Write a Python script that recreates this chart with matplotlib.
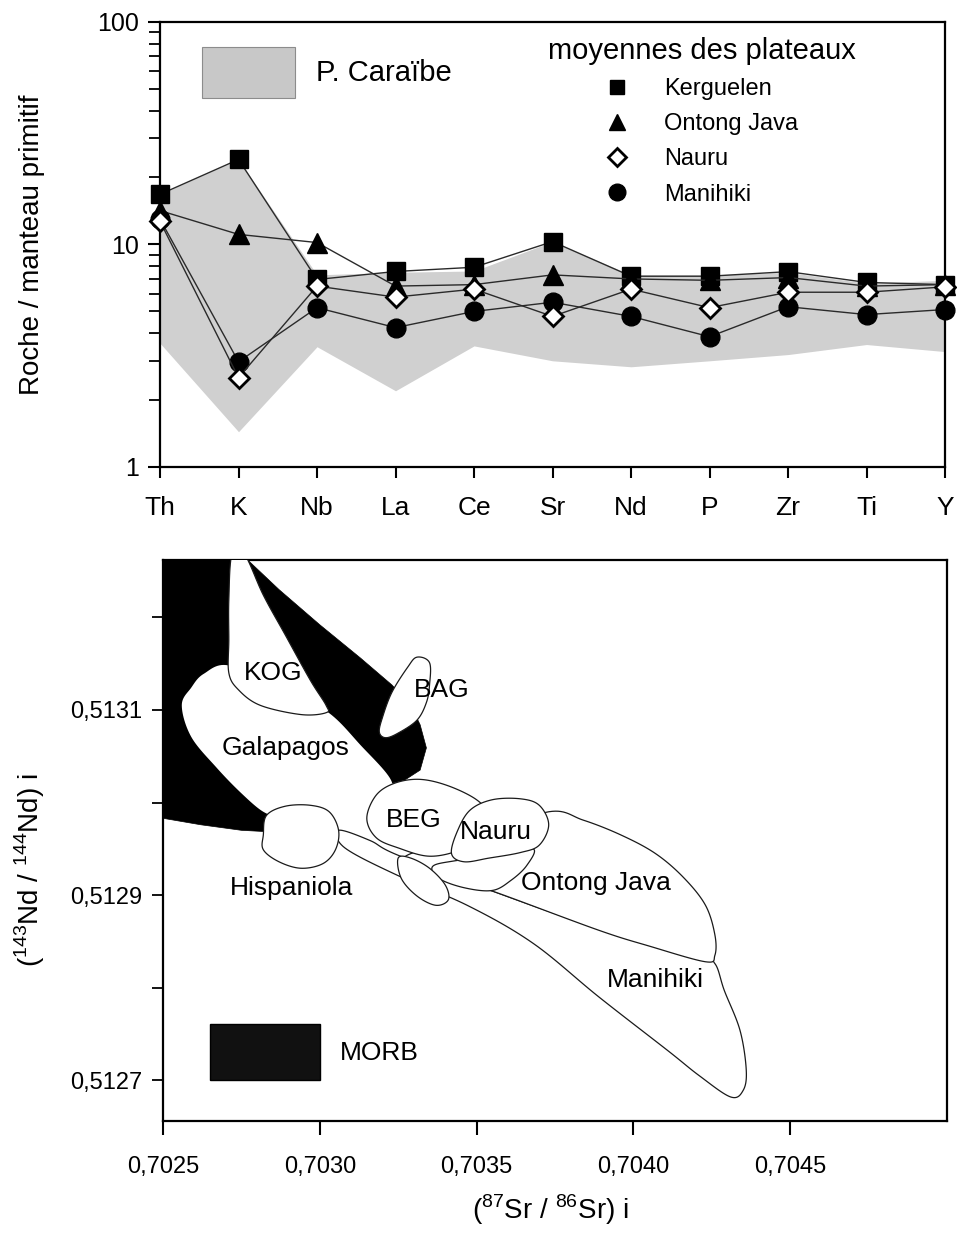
import matplotlib
matplotlib.use('Agg')
import matplotlib.pyplot as plt
import numpy as np
from matplotlib.patches import Patch, Polygon
from matplotlib.lines import Line2D
from matplotlib.ticker import NullFormatter

plt.rcParams['font.family'] = ['Liberation Sans', 'DejaVu Sans']
plt.rcParams['mathtext.fontset'] = 'custom'
plt.rcParams['mathtext.rm'] = 'Liberation Sans'

# ---- top panel: spider diagram (normalised to primitive mantle)
elements = ['Th', 'K', 'Nb', 'La', 'Ce', 'Sr', 'Nd', 'P', 'Zr', 'Ti', 'Y']
kerguelen = [16.8, 24.1, 6.96, 7.56, 7.9, 10.3, 7.2, 7.2, 7.55, 6.75, 6.6]
ontong_java = [14.2, 11.1, 10.2, 6.5, 6.6, 7.3, 7.0, 6.9, 7.1, 6.5, 6.6]
nauru = [12.7, 2.52, 6.5, 5.8, 6.3, 4.75, 6.3, 5.2, 6.1, 6.1, 6.45]
manihiki = [13.0, 2.97, 5.2, 4.23, 5.0, 5.5, 4.75, 3.85, 5.25, 4.84, 5.1]
caraibe_low = [3.6, 1.44, 3.47, 2.2, 3.5, 3.0, 2.82, 3.0, 3.2, 3.55, 3.3]
caraibe_high = [16.8, 24.1, 7.3, 7.5, 7.6, 10.3, 7.3, 7.3, 7.5, 6.7, 6.9]
y_ticks_top = [1, 10, 100]
y_ticklabels_top = ['1', '10', '100']

# ---- bottom panel: Sr-Nd isotope fields (87Sr/86Sr, 143Nd/144Nd)
morb_sr = [0.70250, 0.70277, 0.70287, 0.70300, 0.70313, 0.70323, 0.70329, 0.70332,
           0.70334, 0.70332, 0.70327, 0.70322, 0.70303, 0.70286, 0.70275, 0.70262, 0.70250]
morb_nd = [0.513262, 0.513262, 0.513230, 0.513192, 0.513156, 0.513127, 0.513105, 0.513084,
           0.513059, 0.513035, 0.513024, 0.513020, 0.512994, 0.512968, 0.512970, 0.512976, 0.512983]

galapagos_sr = [0.70256, 0.70259, 0.70263, 0.70271, 0.70287, 0.70302, 0.70313, 0.70323,
                0.70319, 0.70311, 0.70300, 0.70287, 0.70282, 0.70275, 0.70267, 0.70259]
galapagos_nd = [0.513105, 0.513124, 0.513139, 0.513148, 0.513122, 0.513099, 0.513062, 0.513022,
                0.513003, 0.512986, 0.512983, 0.512986, 0.512990, 0.513010, 0.513038, 0.513071]

kog_sr = [0.70272, 0.70271, 0.70271, 0.70271, 0.70274, 0.70281, 0.70294, 0.70302,
          0.70302, 0.70297, 0.70289, 0.70282, 0.70276]
kog_nd = [0.513268, 0.513219, 0.513176, 0.513140, 0.513122, 0.513105, 0.513095, 0.513097,
          0.513105, 0.513132, 0.513181, 0.513224, 0.513268]

bag_sr = [0.70331, 0.70335, 0.70335, 0.70334, 0.70331, 0.70325, 0.70321, 0.70319,
          0.70320, 0.70323, 0.70328]
bag_nd = [0.513157, 0.513151, 0.513127, 0.513108, 0.513089, 0.513075, 0.513070, 0.513076,
          0.513092, 0.513119, 0.513146]

beg_sr = [0.70315, 0.70318, 0.70324, 0.70332, 0.70341, 0.70350, 0.70354, 0.70353,
          0.70345, 0.70335, 0.70325, 0.70318]
beg_nd = [0.512983, 0.513008, 0.513021, 0.513025, 0.513018, 0.513003, 0.512986, 0.512965,
          0.512949, 0.512942, 0.512951, 0.512962]

nauru_sr = [0.70342, 0.70344, 0.70348, 0.70355, 0.70364, 0.70370, 0.70373, 0.70370,
            0.70364, 0.70354, 0.70346]
nauru_nd = [0.512945, 0.512970, 0.512992, 0.513003, 0.513004, 0.512997, 0.512976, 0.512954,
            0.512946, 0.512940, 0.512936]

hispaniola_sr = [0.70282, 0.70283, 0.70289, 0.70297, 0.70303, 0.70306, 0.70305, 0.70301,
                 0.70294, 0.70287, 0.70282]
hispaniola_nd = [0.512965, 0.512986, 0.512996, 0.512997, 0.512990, 0.512970, 0.512949, 0.512934,
                 0.512929, 0.512936, 0.512949]

ontong_sr = [0.70327, 0.70335, 0.70351, 0.70373, 0.70384, 0.70396, 0.70407, 0.70416, 0.70423,
             0.70426, 0.70426, 0.70423, 0.70405, 0.70389, 0.70357, 0.70338, 0.70329]
ontong_nd = [0.512941, 0.512951, 0.512963, 0.512990, 0.512981, 0.512965, 0.512945, 0.512919, 0.512889,
             0.512857, 0.512835, 0.512828, 0.512845, 0.512862, 0.512902, 0.512924, 0.512931]

manihiki_sr = [0.70306, 0.70316, 0.70325, 0.70357, 0.70389, 0.70421, 0.70426, 0.70429, 0.70434,
               0.70436, 0.70435, 0.70431, 0.70421, 0.70411, 0.70389, 0.70368, 0.70347, 0.70325, 0.70308]
manihiki_nd = [0.512970, 0.512959, 0.512943, 0.512902, 0.512864, 0.512832, 0.512826, 0.512797, 0.512754,
               0.512711, 0.512689, 0.512682, 0.512705, 0.512732, 0.512790, 0.512848, 0.512889, 0.512921, 0.512951]

small1_sr = [0.70325, 0.70326, 0.70331, 0.70337, 0.70341, 0.70340, 0.70335, 0.70329]
small1_nd = [0.512940, 0.512918, 0.512899, 0.512889, 0.512895, 0.512911, 0.512929, 0.512940]
small2_sr = [0.70336, 0.70343, 0.70357, 0.70368, 0.70366, 0.70361, 0.70355, 0.70346, 0.70338]
small2_nd = [0.512931, 0.512937, 0.512943, 0.512950, 0.512932, 0.512916, 0.512905, 0.512908, 0.512918]

field_labels = ['KOG', 'BAG', 'Galapagos', 'BEG', 'Nauru', 'Ontong Java', 'Hispaniola', 'Manihiki']
label_sr = [0.70285, 0.70339, 0.70289, 0.70330, 0.70356, 0.70388, 0.70291, 0.70407]
label_nd = [0.513140, 0.513122, 0.513059, 0.512981, 0.512968, 0.512913, 0.512908, 0.512808]

sr_ticks = [0.7025, 0.7030, 0.7035, 0.7040, 0.7045]
sr_ticklabels = ['0,7025', '0,7030', '0,7035', '0,7040', '0,7045']
nd_ticks = [0.5127, 0.5128, 0.5129, 0.5130, 0.5131, 0.5132]
nd_ticklabels = ['0,5127', '', '0,5129', '', '0,5131', '']


def closed_curve(xs, ys, n=14):
    # Catmull-Rom through the outline vertices, closed
    p = np.column_stack([xs, ys])
    m = len(p)
    out = []
    for i in range(m):
        p0, p1, p2, p3 = p[i - 1], p[i], p[(i + 1) % m], p[(i + 2) % m]
        for t in np.linspace(0, 1, n, endpoint=False):
            t2, t3 = t * t, t * t * t
            out.append(0.5 * (2 * p1 + (-p0 + p2) * t + (2 * p0 - 5 * p1 + 4 * p2 - p3) * t2
                              + (-p0 + 3 * p1 - 3 * p2 + p3) * t3))
    return np.array(out)


fig = plt.figure(figsize=(9.57, 12.35), dpi=100)

# ================= top panel
ax1 = fig.add_axes([0.1672, 0.6219, 0.8203, 0.3603])
x = np.arange(len(elements))
ax1.fill_between(x, caraibe_low, caraibe_high, color='#d0d0d0', lw=0, zorder=1)

line_kw = dict(color='#2a2a2a', lw=1.0, clip_on=False)
ax1.plot(x, kerguelen, marker='s', ms=12.5, mfc='black', mec='black', zorder=4, **line_kw)
ax1.plot(x, ontong_java, marker='^', ms=14, mfc='black', mec='black', zorder=4, **line_kw)
ax1.plot(x, manihiki, marker='o', ms=13.5, mfc='black', mec='black', zorder=5, **line_kw)
ax1.plot(x, nauru, marker='D', ms=10.5, mfc='white', mec='black', mew=2, zorder=6, **line_kw)

ax1.set_yscale('log')
ax1.set_ylim(1, 100)
ax1.set_xlim(0, len(elements) - 1)
ax1.set_xticks(x)
ax1.set_xticklabels(elements, fontsize=19)
ax1.set_yticks(y_ticks_top)
ax1.set_yticklabels(y_ticklabels_top, fontsize=18)
ax1.yaxis.set_minor_formatter(NullFormatter())
ax1.tick_params(axis='x', direction='out', length=8, width=1.5, pad=13)
ax1.tick_params(axis='y', which='major', direction='out', length=9, width=1.5, pad=6)
ax1.tick_params(axis='y', which='minor', direction='out', length=8, width=1.3)
for s in ax1.spines.values():
    s.set_linewidth(1.6)
ax1.set_ylabel('Roche / manteau primitif', fontsize=20)
ax1.yaxis.set_label_coords(-0.146, 0.5)

car_handle = Patch(facecolor='#c8c8c8', edgecolor='#8c8c8c', lw=0.8)
leg1 = ax1.legend(handles=[car_handle], labels=['P. Caraïbe'], loc='upper left',
                  bbox_to_anchor=(0.0535, 0.944), frameon=False, fontsize=21,
                  handlelength=3.2, handleheight=2.3, handletextpad=0.7,
                  borderpad=0, borderaxespad=0)
ax1.add_artist(leg1)

mk = [Line2D([], [], ls='none', marker='s', ms=10, mfc='black', mec='black'),
      Line2D([], [], ls='none', marker='^', ms=12, mfc='black', mec='black'),
      Line2D([], [], ls='none', marker='D', ms=9, mfc='white', mec='black', mew=2),
      Line2D([], [], ls='none', marker='o', ms=12, mfc='black', mec='black')]
ax1.legend(handles=mk, labels=['Kerguelen', 'Ontong Java', 'Nauru', 'Manihiki'],
           title='moyennes des plateaux', title_fontsize=21, fontsize=17,
           loc='upper left', bbox_to_anchor=(0.494, 0.967), frameon=False,
           handlelength=1.0, handletextpad=1.5, labelspacing=0.56,
           borderpad=0, borderaxespad=0, alignment='center')

# ================= bottom panel
ax2 = fig.add_axes([0.1703, 0.0923, 0.8192, 0.4543])
ax2.set_xlim(0.7025, 0.7050)
ax2.set_ylim(0.512656, 0.513262)

ax2.add_patch(Polygon(np.column_stack([morb_sr, morb_nd]), closed=True,
                      facecolor='black', edgecolor='black', lw=0.5, zorder=1))
ax2.add_patch(Polygon(closed_curve(galapagos_sr, galapagos_nd), closed=True,
                      facecolor='white', edgecolor='none', zorder=2))

fields = [(kog_sr, kog_nd, 3), (bag_sr, bag_nd, 3),
          (manihiki_sr, manihiki_nd, 3), (ontong_sr, ontong_nd, 4),
          (small2_sr, small2_nd, 5), (small1_sr, small1_nd, 5),
          (hispaniola_sr, hispaniola_nd, 5), (beg_sr, beg_nd, 6),
          (nauru_sr, nauru_nd, 7)]
for fs, fn, z in fields:
    ax2.add_patch(Polygon(closed_curve(fs, fn), closed=True, facecolor='white',
                          edgecolor='#1a1a1a', lw=0.9, zorder=z))

for lab, lx, ly in zip(field_labels, label_sr, label_nd):
    ax2.text(lx, ly, lab, fontsize=19, ha='center', va='center', zorder=10)

morb_handle = Patch(facecolor='#111111', edgecolor='black')
ax2.legend(handles=[morb_handle], labels=['MORB'], loc='lower left',
           bbox_to_anchor=(0.06, 0.073), frameon=False, fontsize=19,
           handlelength=4.17, handleheight=2.9, handletextpad=0.76,
           borderpad=0, borderaxespad=0)

ax2.set_xticks(sr_ticks)
ax2.set_xticklabels(sr_ticklabels, fontsize=17)
ax2.set_yticks(nd_ticks)
ax2.set_yticklabels(nd_ticklabels, fontsize=17)
ax2.tick_params(axis='x', direction='out', length=10, width=1.5, pad=15)
ax2.tick_params(axis='y', direction='out', length=8, width=1.3, pad=7)
for s in ax2.spines.values():
    s.set_linewidth(1.6)
ax2.set_ylabel(r'($^{143}$Nd / $^{144}$Nd) i', fontsize=20)
ax2.yaxis.set_label_coords(-0.148, 0.447)
ax2.set_xlabel(r'($^{87}$Sr / $^{86}$Sr) i', fontsize=20)
ax2.xaxis.set_label_coords(0.4936, -0.128)

fig.savefig('out.png', dpi=100)
